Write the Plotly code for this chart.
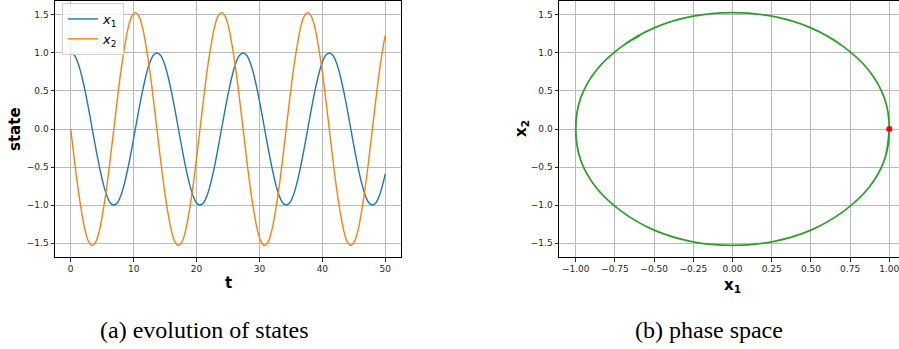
import plotly.graph_objects as go
from plotly.subplots import make_subplots

# values (one row per oscillation, ~0.57 time units apart)
t = [0.00, 0.57, 1.14, 1.71, 2.28, 2.85, 3.42, 4.00, 4.57, 5.14, 5.71, 6.28,
     6.85, 7.42, 7.99, 8.56, 9.13, 9.70, 10.27, 10.85, 11.42, 11.99, 12.56, 13.13,
     13.70, 14.27, 14.84, 15.41, 15.98, 16.55, 17.12, 17.70, 18.27, 18.84, 19.41, 19.98,
     20.55, 21.12, 21.69, 22.26, 22.83, 23.40, 23.97, 24.55, 25.12, 25.69, 26.26, 26.83,
     27.40, 27.97, 28.54, 29.11, 29.68, 30.25, 30.82, 31.40, 31.97, 32.54, 33.11, 33.68,
     34.25, 34.82, 35.39, 35.96, 36.53, 37.10, 37.67, 38.25, 38.82, 39.39, 39.96, 40.53,
     41.10, 41.67, 42.24, 42.81, 43.38, 43.95, 44.52, 45.10, 45.67, 46.24, 46.81, 47.38,
     47.95, 48.52, 49.09, 49.66, 50.00]
x1 = [1.0, 0.97, 0.87, 0.71, 0.5, 0.26, 0.0, -0.26, -0.5, -0.71, -0.87, -0.97,
      -1.0, -0.97, -0.87, -0.71, -0.5, -0.26, 0.0, 0.26, 0.5, 0.71, 0.87, 0.97,
      1.0, 0.97, 0.87, 0.71, 0.5, 0.26, 0.0, -0.26, -0.5, -0.71, -0.87, -0.97,
      -1.0, -0.97, -0.87, -0.71, -0.5, -0.26, 0.0, 0.26, 0.5, 0.71, 0.87, 0.97,
      1.0, 0.97, 0.87, 0.71, 0.5, 0.26, 0.0, -0.26, -0.5, -0.71, -0.87, -0.97,
      -1.0, -0.97, -0.87, -0.71, -0.5, -0.26, 0.0, 0.26, 0.5, 0.71, 0.87, 0.97,
      1.0, 0.97, 0.87, 0.71, 0.5, 0.26, 0.0, -0.26, -0.5, -0.71, -0.87, -0.97,
      -1.0, -0.97, -0.87, -0.71, -0.59]
x2 = [0.0, -0.40, -0.77, -1.08, -1.33, -1.48, -1.53, -1.48, -1.33, -1.08, -0.77, -0.40,
      0.0, 0.40, 0.77, 1.08, 1.33, 1.48, 1.53, 1.48, 1.33, 1.08, 0.77, 0.40,
      0.0, -0.40, -0.77, -1.08, -1.33, -1.48, -1.53, -1.48, -1.33, -1.08, -0.77, -0.40,
      0.0, 0.40, 0.77, 1.08, 1.33, 1.48, 1.53, 1.48, 1.33, 1.08, 0.77, 0.40,
      0.0, -0.40, -0.77, -1.08, -1.33, -1.48, -1.53, -1.48, -1.33, -1.08, -0.77, -0.40,
      0.0, 0.40, 0.77, 1.08, 1.33, 1.48, 1.53, 1.48, 1.33, 1.08, 0.77, 0.40,
      0.0, -0.40, -0.77, -1.08, -1.33, -1.48, -1.53, -1.48, -1.33, -1.08, -0.77, -0.40,
      0.0, 0.40, 0.77, 1.08, 1.23]
start = [1.0, 0.0]

W, H = 899, 349
BLUE, ORANGE, GREEN = '#1f77b4', '#ff7f0e', '#2ca02c'
TICKFONT = dict(family='DejaVu Sans', size=9, color='#262626')
GRID = '#b9b9b9'

fig = make_subplots(rows=1, cols=2)

fig.add_trace(go.Scatter(x=t, y=x1, mode='lines', line=dict(color=BLUE, width=1.4, shape='spline'),
                         name='<i>x</i><sub>1</sub>'), 1, 1)
fig.add_trace(go.Scatter(x=t, y=x2, mode='lines', line=dict(color=ORANGE, width=1.4, shape='spline'),
                         name='<i>x</i><sub>2</sub>'), 1, 1)
fig.add_trace(go.Scatter(x=x1, y=x2, mode='lines', line=dict(color=GREEN, width=1.8, shape='spline'),
                         showlegend=False), 1, 2)
fig.add_trace(go.Scatter(x=[start[0]], y=[start[1]], mode='markers',
                         marker=dict(color='red', size=6), showlegend=False), 1, 2)

axis_common = dict(showgrid=True, gridcolor=GRID, gridwidth=1, zeroline=False, automargin=False,
                   showline=True, linecolor='black', linewidth=1, ticklabeloverflow='allow',
                   ticks='outside', ticklen=3.5, tickcolor='#262626', tickfont=TICKFONT)

fig.update_xaxes(axis_common)
fig.update_yaxes(axis_common)

fig.update_xaxes(domain=[55 / W, 401 / W], range=[-2.5, 52.5], dtick=10, mirror=True, row=1, col=1)
fig.update_yaxes(domain=[1 - 257 / H, 1 - 1 / H], range=[-1.683, 1.683], dtick=0.5,
                 tickformat='.1f', mirror=True, row=1, col=1)
fig.update_xaxes(domain=[559 / W, 1.0], range=[-1.107, 1.062], dtick=0.25, tickformat='.2f',
                 mirror=True, row=1, col=2)
fig.update_yaxes(domain=[1 - 257 / H, 1 - 1 / H], range=[-1.683, 1.683], dtick=0.5,
                 tickformat='.1f', row=1, col=2)

bold = dict(family='DejaVu Sans', size=15, color='black')
serif = dict(family='Liberation Serif', size=24, color='black')
annotations = [
    dict(text='<b>state</b>', x=15 / W, y=1 - 129 / H, textangle=-90, font=bold),
    dict(text='<b>t</b>', x=228 / W, y=1 - 283 / H, font=bold),
    dict(text='<b>x<sub>2</sub></b>', x=522 / W, y=1 - 129 / H, textangle=-90, font=bold),
    dict(text='<b>x<sub>1</sub></b>', x=732 / W, y=1 - 285 / H, font=bold),
    dict(text='(a) evolution of states', x=204 / W, y=1 - 330 / H, font=serif),
    dict(text='(b) phase space', x=709 / W, y=1 - 330 / H, font=serif),
]
for a in annotations:
    a.update(xref='paper', yref='paper', showarrow=False, xanchor='center', yanchor='middle')

fig.update_layout(
    width=W, height=H, margin=dict(l=0, r=0, t=0, b=0, autoexpand=False),
    paper_bgcolor='white', plot_bgcolor='white',
    annotations=annotations,
    legend=dict(x=62 / W, y=1 - 3 / H, xanchor='left', yanchor='top',
                bgcolor='rgba(255,255,255,0.8)', bordercolor='#d0d0d0', borderwidth=1,
                font=dict(family='DejaVu Sans', size=13, color='black'),
                tracegroupgap=0, itemwidth=30),
)

# the page body has a default 8px margin; drop it so the figure fills the window
fig.write_html("out.html", config={'displayModeBar': False},
               post_script="document.body.style.margin='0';document.body.style.overflow='hidden';")
